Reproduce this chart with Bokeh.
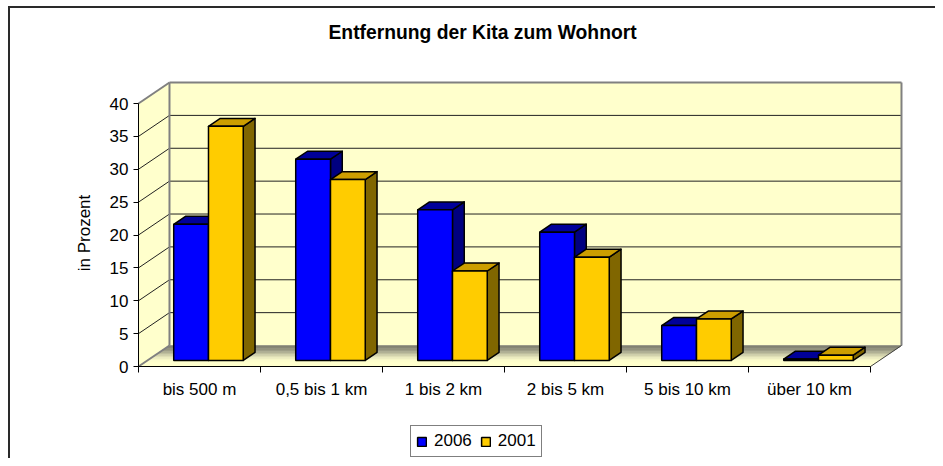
import math
from bokeh.plotting import figure
from bokeh.models import Range1d, FixedTicker, Legend, LegendItem, Label
from bokeh.embed import file_html
from bokeh.resources import INLINE

# ---- data ----
categories = ["bis 500 m", "0,5 bis 1 km", "1 bis 2 km", "2 bis 5 km", "5 bis 10 km", "über 10 km"]
values_2006 = [20.7, 30.6, 22.9, 19.5, 5.3, 0.2]
values_2001 = [35.6, 27.5, 13.6, 15.7, 6.3, 0.8]
series_names = ["2006", "2001"]
y_ticks = [0, 5, 10, 15, 20, 25, 30, 35, 40]
title_text = "Entfernung der Kita zum Wohnort"
y_label = "in Prozent"

# ---- layout / 3D geometry (styling) ----
W, H = 935, 458
X0_PX, Y0_PX = 138, 366          # pixel position of the axes origin
PX_X, PX_Y = 122.0, 6.575        # pixels per category / per percent
def px2x(px): return (px - X0_PX) / PX_X
def px2y(py): return (Y0_PX - py) / PX_Y

DX, DY = 0.254, 3.19      # full depth offset of the walls (data units)
F0 = 0.29                 # depth fraction of bar front faces
FD = 0.38                 # depth fraction of bar thickness
BAR_W = 0.285             # bar width (category units)
N = len(categories)
YMAX = y_ticks[-1]
FONT = "Liberation Sans"

border_css = {
    "background-image": "linear-gradient(#2a2a2a,#2a2a2a), linear-gradient(#2a2a2a,#2a2a2a)",
    "background-size": "2px 100%, 100% 2px",
    "background-position": "8px 6px, 8px 6px",
    "background-repeat": "no-repeat",
}

p = figure(width=W, height=H, title=None,
           x_range=Range1d(px2x(0), px2x(W)), y_range=Range1d(px2y(H), px2y(0)),
           output_backend="svg", toolbar_location=None,
           min_border_left=0, min_border_right=0, min_border_top=0, min_border_bottom=0,
           background_fill_color=None, border_fill_color=None,
           styles=border_css)
p.outline_line_color = None
p.grid.visible = False

# walls
p.quad(left=[DX], right=[N + DX], bottom=[DY], top=[YMAX + DY], fill_color="#FFFFCC", line_color=None)
p.patch([0, DX, DX, 0], [0, DY, YMAX + DY, YMAX], fill_color="#FFFFCC", line_color=None)

# floor with gradient (back dark -> front light)
M = 14
def lerp_col(c0, c1, t):
    return "#%02x%02x%02x" % tuple(int(round(a + (b - a) * t)) for a, b in zip(c0, c1))
fxs, fys, fcs = [], [], []
for i in range(M):
    sa = 1 - i / M
    sb = 1 - (i + 1) / M
    t = min(1.0, (i + 0.5) / M / 0.8)
    t = t * t * (3 - 2 * t)
    fxs.append([sa * DX, N + sa * DX, N + sb * DX, sb * DX])
    fys.append([sa * DY, sa * DY, sb * DY, sb * DY])
    fcs.append(lerp_col((0x80, 0x80, 0x72), (0xFF, 0xFF, 0xCC), t))
p.patches(fxs, fys, fill_color=fcs, line_color=fcs, line_width=0.6)

# gridlines
inner = y_ticks[1:-1]
p.multi_line([[DX, N + DX] for v in inner], [[v + DY, v + DY] for v in inner], line_color="#222222", line_width=1)
p.multi_line([[0, DX] for v in inner], [[v, v + DY] for v in inner], line_color="#222222", line_width=1)

# wall edges
p.multi_line([[DX, N + DX], [N + DX, N + DX], [DX, DX], [0, DX], [0, DX]],
             [[YMAX + DY, YMAX + DY], [DY, YMAX + DY], [DY, YMAX + DY], [YMAX, YMAX + DY], [0, DY]],
             line_color="#808080", line_width=2)
p.multi_line([[N, N + DX]], [[0, DY]], line_color="#404040", line_width=1)

# bars
dx, dy = FD * DX, FD * DY
styles = [("#0000FF", "#000099", "#000080"), ("#FFCC00", "#CC9E00", "#806600")]
fronts = []
for j, vals in enumerate([values_2006, values_2001]):
    front_c, top_c, side_c = styles[j]
    Ls, Rs, Bs, Ts = [], [], [], []
    for k, v in enumerate(vals):
        L = k + 0.5 - BAR_W + j * BAR_W + F0 * DX
        Ls.append(L); Rs.append(L + BAR_W); Bs.append(F0 * DY); Ts.append(v + F0 * DY)
    side_xs = [[R, R, R + dx, R + dx] for R in Rs]
    side_ys = [[B, T, T + dy, B + dy] for B, T in zip(Bs, Ts)]
    top_xs = [[L, R, R + dx, L + dx] for L, R in zip(Ls, Rs)]
    top_ys = [[T, T, T + dy, T + dy] for T in Ts]
    p.patches(side_xs, side_ys, fill_color=side_c, line_color="black", line_width=1.5, line_join="round")
    p.patches(top_xs, top_ys, fill_color=top_c, line_color="black", line_width=1.5, line_join="round")
    fr = p.quad(left=Ls, right=Rs, bottom=Bs, top=Ts, fill_color=front_c, line_color="black", line_width=1.5)
    fronts.append(fr)

# y axis (fixed at x = 0)
ya = p.yaxis[0]
ya.fixed_location = 0
ya.ticker = FixedTicker(ticks=y_ticks)
ya.bounds = (0, YMAX)
ya.major_tick_out = 5
ya.major_tick_in = 0
ya.minor_tick_out = 0
ya.minor_tick_in = 0
ya.axis_line_color = "black"
ya.major_tick_line_color = "black"
ya.major_label_text_font = FONT
ya.major_label_text_font_size = "17px"
ya.major_label_text_color = "black"
ya.major_label_standoff = 5

# x axis (fixed at y = 0)
xa = p.xaxis[0]
xa.fixed_location = 0
xa.ticker = FixedTicker(ticks=[k + 0.5 for k in range(N)], minor_ticks=list(range(N + 1)))
xa.major_label_overrides = {k + 0.5: c for k, c in enumerate(categories)}
xa.bounds = (0, N)
xa.major_tick_in = 0
xa.major_tick_out = 0
xa.minor_tick_in = 0
xa.minor_tick_out = 6
xa.minor_tick_line_color = "black"
xa.axis_line_color = "black"
xa.major_label_text_font = FONT
xa.major_label_text_font_size = "17px"
xa.major_label_text_color = "black"
xa.major_label_standoff = 7

# title and y-axis title
p.add_layout(Label(x=px2x(328), y=px2y(31.5), text=title_text, text_font=FONT,
                   text_font_style="bold", text_font_size="19.3px", text_color="black",
                   text_align="left", text_baseline="alphabetic"))
p.add_layout(Label(x=px2x(84), y=px2y(232.5), text=y_label, angle=math.pi / 2, text_font=FONT,
                   text_font_size="17px", text_color="black",
                   text_align="center", text_baseline="alphabetic"))

# legend
legend = Legend(items=[LegendItem(label=series_names[0], renderers=[fronts[0]]),
                       LegendItem(label=series_names[1], renderers=[fronts[1]])],
                orientation="horizontal", location=(410, 1),
                border_line_color="black", border_line_width=1, background_fill_color="white",
                background_fill_alpha=1.0,
                padding=5, spacing=8, margin=0, glyph_width=11, glyph_height=11,
                label_standoff=7, label_height=19,
                label_text_font=FONT, label_text_font_size="17px", label_text_color="black")
p.add_layout(legend)

open("out.html", "w").write(file_html(p, INLINE))
